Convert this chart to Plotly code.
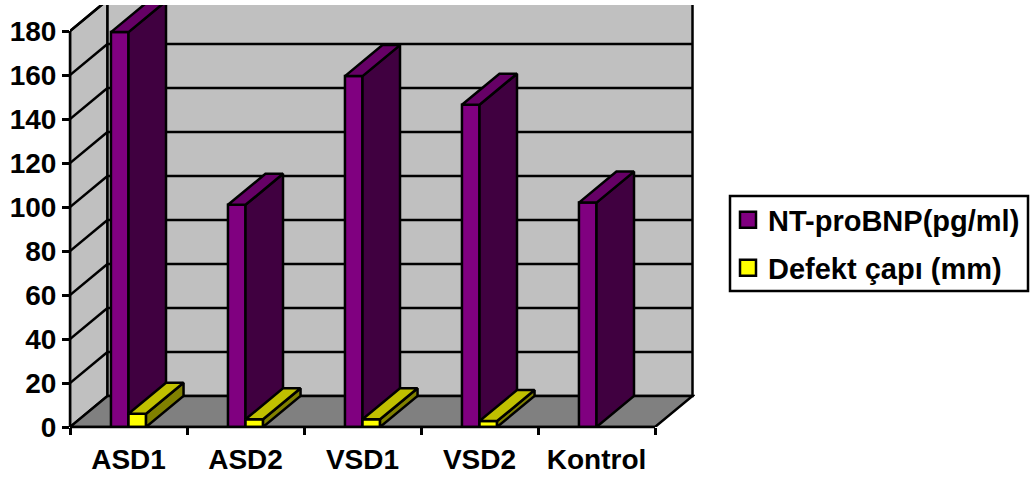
import plotly.graph_objects as go

# Chart data
categories = ["ASD1", "ASD2", "VSD1", "VSD2", "Kontrol"]
nt_probnp = [179.5, 101, 159.5, 146.5, 102]
defekt_capi = [6, 3.5, 3.5, 2.7, None]
y_ticks = [0, 20, 40, 60, 80, 100, 120, 140, 160, 180]
series_names = ["NT-proBNP(pg/ml)", "Defekt çapı (mm)"]

# Plot scale: one category is 117 px wide, one value unit is 2.2 px tall
CAT_PX, UNIT_PX = 117, 2.2
PLOT_W, PLOT_H = 625, 422
XMAX, YMAX = PLOT_W / CAT_PX, PLOT_H / UNIT_PX
N = len(categories)
TOP = y_ticks[-1]

# Oblique projection of the chart depth
DX, DY = 37.5 / CAT_PX, 31 / UNIT_PX
BAR_W = 0.15

PURPLE, PURPLE_TOP, PURPLE_SIDE = "#800080", "#660066", "#400040"
YELLOW, YELLOW_TOP, YELLOW_SIDE = "#FFFF00", "#C0C000", "#808000"
WALL, FLOOR = "#C0C0C0", "#808080"
FONT = "Liberation Sans, Arial, sans-serif"
BLACK = dict(color="black", width=2.5)
W, H = 1034, 479

centers = [i + 0.5 for i in range(N)]


def poly(points):
    return "M" + "L".join(f"{x},{y}" for x, y in points) + "Z"


def depth_faces(lefts, values):
    """Top and side polygons of each extruded bar, gaps between bars."""
    top_x, top_y, side_x, side_y = [], [], [], []
    for x0, v in zip(lefts, values):
        if v is None:
            continue
        x1 = x0 + BAR_W
        top_x += [x0, x1, x1 + DX, x0 + DX, x0, None]
        top_y += [v, v, v + DY, v + DY, v, None]
        side_x += [x1, x1 + DX, x1 + DX, x1, x1, None]
        side_y += [0, DY, v + DY, v, 0, None]
    return top_x, top_y, side_x, side_y


def solid(x, y, color, axes=("x", "y")):
    return go.Scatter(x=x, y=y, mode="lines", fill="toself", fillcolor=color,
                      line=BLACK, hoverinfo="skip", showlegend=False,
                      xaxis=axes[0], yaxis=axes[1])


shapes = [
    # Left wall, back wall and floor
    dict(type="path", layer="below", xref="x", yref="y", fillcolor=WALL, line=BLACK,
         path=poly([(0, 0), (DX, DY), (DX, TOP + DY), (0, TOP)])),
    dict(type="path", layer="below", xref="x", yref="y", fillcolor=WALL, line=BLACK,
         path=poly([(DX, DY), (N + DX, DY), (N + DX, TOP + DY), (DX, TOP + DY)])),
    dict(type="path", layer="below", xref="x", yref="y", fillcolor=FLOOR, line=BLACK,
         path=poly([(0, 0), (DX, DY), (N + DX, DY), (N, 0)])),
]
# Gridlines wrap around the left and back walls
for v in y_ticks[1:]:
    shapes.append(dict(type="line", layer="below", xref="x", yref="y", line=BLACK,
                       x0=0, y0=v, x1=DX, y1=v + DY))
    shapes.append(dict(type="line", layer="below", xref="x", yref="y", line=BLACK,
                       x0=DX, y0=v + DY, x1=N + DX, y1=v + DY))
# Axis lines stop at the last tick, short of the plot-area edge
shapes.append(dict(type="line", layer="above", xref="paper", yref="paper", line=BLACK,
                   x0=0, y0=0, x1=0, y1=TOP / YMAX))
shapes.append(dict(type="line", layer="above", xref="paper", yref="paper", line=BLACK,
                   x0=0, y0=0, x1=N / XMAX, y1=0))
# Legend frame
shapes.append(dict(type="rect", xref="paper", yref="paper", line=BLACK,
                   fillcolor="white", layer="below",
                   x0=(730 - 70) / PLOT_W, x1=(1028 - 70) / PLOT_W,
                   y0=(427 - 291) / PLOT_H, y1=(427 - 196) / PLOT_H))

purple_lefts = [c - BAR_W for c in centers]
yellow_lefts = centers
p_top_x, p_top_y, p_side_x, p_side_y = depth_faces(purple_lefts, nt_probnp)
y_top_x, y_top_y, y_side_x, y_side_y = depth_faces(yellow_lefts, defekt_capi)

fig = go.Figure()

# Purple series on the base axes
fig.add_trace(go.Bar(x=centers, y=nt_probnp, width=BAR_W, offset=-BAR_W,
                     marker=dict(color=PURPLE, line=BLACK), showlegend=False,
                     name=series_names[0]))
fig.add_trace(solid(p_side_x, p_side_y, PURPLE_SIDE))
fig.add_trace(solid(p_top_x, p_top_y, PURPLE_TOP))

# Yellow series on overlaid axes so it stacks in front of the purple depth faces
fig.add_trace(go.Bar(x=centers, y=defekt_capi, width=BAR_W, offset=0,
                     marker=dict(color=YELLOW, line=BLACK), showlegend=False,
                     name=series_names[1], xaxis="x2", yaxis="y2"))
fig.add_trace(solid(y_side_x, y_side_y, YELLOW_SIDE, ("x2", "y2")))
fig.add_trace(solid(y_top_x, y_top_y, YELLOW_TOP, ("x2", "y2")))

# Legend swatches, one legend per row to set the row spacing
for name, color, legend in zip(series_names, [PURPLE, YELLOW], ["legend", "legend2"]):
    fig.add_trace(go.Scatter(x=[None], y=[None], mode="markers", name=name, legend=legend,
                             marker=dict(symbol="square", size=20, color=color, line=BLACK)))

legend_font = dict(family=FONT, size=29, color="black", weight=700)
legend_common = dict(font=legend_font, bgcolor="rgba(0,0,0,0)", borderwidth=0,
                     xref="container", yref="container",
                     xanchor="left", yanchor="middle", x=728 / W)
tick_font = dict(family=FONT, size=28, color="black", weight=700)

fig.update_layout(
    width=W, height=H,
    autosize=False,
    margin=dict(l=70, r=W - 70 - PLOT_W, t=5, b=H - 5 - PLOT_H),
    paper_bgcolor="white",
    plot_bgcolor="white",
    barmode="overlay",
    showlegend=True,
    shapes=shapes,
    legend=dict(y=1 - 220 / H, **legend_common),
    legend2=dict(y=1 - 268 / H, **legend_common),
    font=dict(family=FONT, color="black"),
    xaxis=dict(
        range=[0, XMAX], showgrid=False, zeroline=False, showline=False, automargin=False,
        tickmode="array", tickvals=centers, ticktext=categories,
        ticks="outside", ticklen=7, tickcolor="rgba(0,0,0,0)",
        tickfont=tick_font,
        minor=dict(tickmode="array", tickvals=list(range(N + 1)), ticks="outside",
                   ticklen=7, tickwidth=2.5, tickcolor="black", showgrid=False),
    ),
    yaxis=dict(
        range=[0, YMAX], showgrid=False, zeroline=False, showline=False, automargin=False,
        tickmode="array", tickvals=y_ticks,
        ticks="outside", ticklen=7, tickwidth=2.5, tickcolor="black",
        tickfont=tick_font,
    ),
    xaxis2=dict(range=[0, XMAX], overlaying="x", visible=False),
    yaxis2=dict(range=[0, YMAX], overlaying="y", visible=False),
)

fig.write_html("out.html", config=dict(displayModeBar=False))
